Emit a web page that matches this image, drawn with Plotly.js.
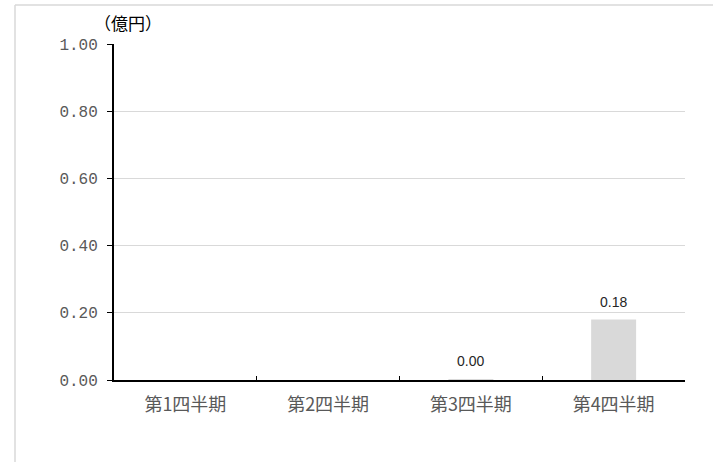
<!DOCTYPE html>
<html>
<head>
<meta charset="utf-8">
<script src="https://cdn.plot.ly/plotly-3.0.1.min.js"></script>
<style>html,body{margin:0;padding:0;background:#fff;}#chart{width:713px;height:462px;}</style>
</head>
<body>
<div id="chart"></div>
<script>
const categories = ['第1四半期', '第2四半期', '第3四半期', '第4四半期'];
const values = [null, null, 0.003, 0.18];
const labels = ['', '', '0.00', '0.18'];
const yTickVals = [0, 0.2, 0.4, 0.6, 0.8, 1.0];
const yTickText = ['0.00', '0.20', '0.40', '0.60', '0.80', '1.00'];
const unitLabel = '（億円）';

const W = 713, H = 462, L = 114, R = 28, T = 44, B = 82;
const pw = W - L - R, ph = H - T - B;
const px2x = p => (p - L) / pw;
const px2y = p => (H - B - p) / ph;

const annotations = categories.map((c, i) => labels[i] ? ({
  x: c, y: values[i], xref: 'x', yref: 'y', text: labels[i], showarrow: false,
  yanchor: 'bottom', yshift: 8,
  font: {family: 'Liberation Sans, Arial, sans-serif', size: 14, color: '#262626'}
}) : null).filter(a => a);
annotations.push({
  x: px2x(128), y: px2y(22), xref: 'paper', yref: 'paper', text: unitLabel, showarrow: false,
  xanchor: 'center', yanchor: 'middle',
  font: {family: 'Noto Sans CJK JP', size: 17, color: '#000000'}
});

const data = [{
  type: 'bar', x: categories, y: values, width: 0.315,
  marker: {color: '#d9d9d9'}, hoverinfo: 'none'
}];

const layout = {
  width: W, height: H,
  margin: {l: L, r: R, t: T, b: B, pad: 0},
  paper_bgcolor: '#ffffff', plot_bgcolor: '#ffffff',
  showlegend: false,
  xaxis: {
    type: 'category', showline: true, linecolor: '#000000', linewidth: 2,
    ticks: 'inside', tickson: 'boundaries', ticklen: 4, tickcolor: '#000000', tickwidth: 1,
    showgrid: false, zeroline: false,
    tickfont: {family: 'Noto Sans CJK JP', size: 18, color: '#595959'},
    ticklabelstandoff: 7
  },
  yaxis: {
    range: [0, 1], tickvals: yTickVals, ticktext: yTickText,
    showline: true, linecolor: '#000000', linewidth: 2,
    ticks: 'outside', ticklen: 5, tickcolor: '#000000', tickwidth: 1,
    showgrid: true, gridcolor: '#d9d9d9', gridwidth: 1, zeroline: false,
    tickfont: {family: 'Liberation Mono', size: 16, color: '#595959'},
    ticklabelstandoff: 6
  },
  annotations: annotations,
  shapes: [
    {type: 'line', xref: 'paper', yref: 'paper', x0: px2x(15), x1: px2x(15), y0: px2y(5), y1: px2y(470), line: {color: '#d9d9d9', width: 1.5}},
    {type: 'line', xref: 'paper', yref: 'paper', x0: px2x(15), x1: px2x(720), y0: px2y(5), y1: px2y(5), line: {color: '#d9d9d9', width: 1.5}}
  ]
};

Plotly.newPlot('chart', data, layout, {displayModeBar: false, staticPlot: true});
</script>
</body>
</html>
